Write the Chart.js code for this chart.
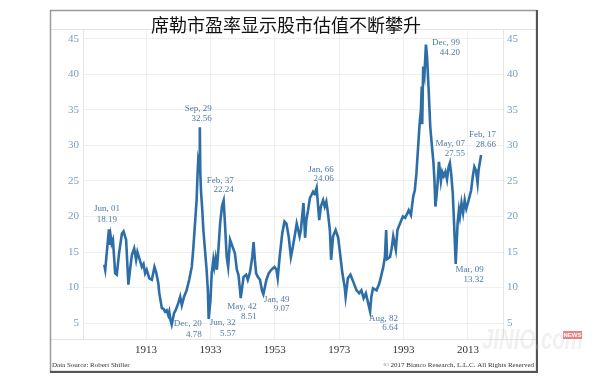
<!DOCTYPE html>
<html><head><meta charset="utf-8">
<script src="https://cdn.jsdelivr.net/npm/chart.js@4.4.1/dist/chart.umd.min.js"></script>
<style>html,body{margin:0;padding:0;background:#fff;}#wrap{width:600px;height:380px;position:relative;}</style>
</head><body><div id="wrap"><canvas id="c" width="600" height="380"></canvas></div>
<script>
const titleText = '席勒市盈率显示股市估值不断攀升';
const years = [1900.0,1900.3,1901.45,1901.7,1902.0,1902.3,1902.7,1903.4,1903.9,1904.6,1905.5,1906.0,1906.8,1907.5,1908.1,1908.6,1909.3,1909.9,1910.3,1910.9,1911.7,1912.2,1912.7,1913.2,1914.0,1914.8,1915.6,1916.1,1916.8,1917.1,1917.9,1918.4,1918.9,1919.4,1919.9,1920.2,1920.6,1920.96,1921.7,1922.2,1923.0,1923.6,1924.1,1924.8,1925.6,1926.4,1927.2,1927.7,1928.2,1928.7,1929.0,1929.2,1929.45,1929.7,1929.85,1930.1,1930.4,1930.8,1931.3,1931.8,1932.2,1932.45,1933.0,1933.4,1933.9,1934.2,1934.6,1935.0,1935.5,1936.0,1936.6,1937.1,1937.5,1938.05,1938.5,1939.1,1939.9,1940.6,1941.2,1941.7,1942.2,1942.4,1943.3,1944.1,1944.6,1945.3,1946.0,1946.4,1946.8,1947.2,1947.7,1948.4,1949.0,1949.45,1950.4,1951.1,1951.9,1952.9,1953.5,1953.9,1954.5,1955.3,1956.0,1956.6,1957.3,1958.0,1958.6,1959.3,1959.8,1960.7,1961.1,1961.9,1962.4,1962.8,1963.3,1963.9,1964.9,1965.4,1966.0,1966.3,1966.8,1967.3,1968.0,1968.5,1969.0,1969.5,1970.1,1970.5,1971.1,1971.9,1972.7,1973.4,1974.0,1974.7,1975.0,1975.7,1976.5,1977.3,1978.4,1979.2,1979.9,1980.6,1981.3,1982.0,1982.6,1983.0,1983.5,1984.6,1985.5,1986.7,1987.2,1987.6,1987.9,1988.8,1989.3,1989.8,1990.6,1991.1,1991.9,1992.8,1993.5,1994.6,1995.3,1996.0,1996.5,1997.0,1997.6,1998.0,1998.4,1998.65,1998.8,1999.1,1999.5,1999.95,2000.3,2000.8,2001.3,2001.8,2002.3,2002.6,2002.9,2003.2,2003.5,2004.0,2004.6,2005.0,2005.5,2006.0,2006.5,2007.0,2007.4,2007.8,2008.3,2008.7,2009.2,2009.8,2010.2,2010.5,2011.0,2011.5,2012.0,2012.5,2013.0,2013.5,2014.0,2014.5,2015.0,2015.5,2016.0,2016.3,2017.1];
const cape = [13.2,12.5,18.19,16.0,17.2,16.2,16.7,12.0,11.8,14.8,17.6,17.9,16.7,10.4,12.8,14.6,15.5,13.9,15.0,14.1,12.9,13.3,12.0,12.5,11.3,11.1,12.9,12.2,10.6,9.2,7.1,7.0,6.6,6.8,6.1,6.6,5.4,4.78,6.4,6.8,7.8,8.7,7.5,8.7,9.6,11.1,12.9,15.7,19.0,22.3,26.0,27.9,27.3,32.56,26.1,23.3,21.4,18.1,15.3,12.5,9.6,5.57,8.2,12.0,13.9,12.9,14.1,12.5,15.5,19.0,21.5,22.24,19.1,14.3,12.9,16.7,15.7,14.8,12.5,11.8,9.6,8.51,11.5,11.8,11.1,12.2,14.3,16.4,13.9,12.0,11.5,11.1,9.6,9.07,11.1,12.0,12.5,12.9,12.5,11.3,14.3,17.6,19.3,19.0,17.2,14.3,15.7,17.6,19.0,17.2,18.1,21.9,17.0,19.5,20.8,22.6,23.5,23.2,24.06,22.3,19.5,21.4,22.3,21.4,22.1,20.5,18.1,13.9,17.2,18.1,17.0,14.3,12.0,10.1,8.7,11.3,11.8,10.9,9.6,9.2,9.6,8.5,9.2,7.8,6.64,8.7,9.9,9.6,10.6,12.9,14.3,18.1,14.0,14.3,15.5,17.2,15.3,18.1,19.0,20.0,19.8,20.9,20.2,22.8,23.7,26.1,30.3,33.1,35.0,38.3,33.0,41.1,40.0,44.2,42.5,37.8,32.6,30.0,27.5,25.1,21.4,22.7,24.2,27.7,25.0,26.3,25.7,26.3,25.2,27.0,27.55,26.0,23.2,19.0,13.32,19.1,20.9,20.0,21.9,20.5,22.3,21.1,21.9,22.8,23.7,25.6,27.0,26.5,24.7,26.5,28.66];
const xTickYears = [1913,1933,1953,1973,1993,2013];
const yTickValues = [5,10,15,20,25,30,35,40,45];
const annDates = ['Jun, 01','Sep, 29','Feb, 37','Dec, 20','Jun, 32','May, 42','Jan, 49','Jan, 66','Aug, 82','Dec, 99','May, 07','Mar, 09','Feb, 17'];
const annValues = ['18.19','32.56','22.24','4.78','5.57','8.51','9.07','24.06','6.64','44.20','27.55','13.32','28.66'];
const annYears = [1901.45,1929.7,1937.1,1920.96,1932.45,1942.4,1949.45,1966.0,1982.6,1999.95,2007.4,2009.2,2017.1];
const annLevels = [18.19,32.56,22.24,4.78,5.57,8.51,9.07,24.06,6.64,44.20,27.55,13.32,28.66];
const sourceNote = 'Data Source: Robert Shiller';
const copyrightNote = '© 2017 Bianco Research, L.L.C. All Rights Reserved';
const watermark = 'JINIO.com';

// label layout: [align, dx, dy line1, dy line2]
const annLayout = [
  ['center',-2,-21,-10],['right',12,-19,-9],['right',10,-20,-11],['right',30,-1,10],
  ['right',27,4,15],['right',16,9,19],['right',26,6,15],['right',17,-18,-9],
  ['right',28,7,16],['right',34,-2,8],['right',15,-19,-9],['right',28,6,16],['right',15,-20,-10]
];

const serif = '"Liberation Serif","DejaVu Serif",serif';

const decor = {
  id:'decor',
  afterDraw(chart){
    const ctx = chart.ctx;
    const xs = chart.scales.x, ys = chart.scales.y;
    ctx.save();
    ctx.strokeStyle = '#e4e4e4'; ctx.lineWidth = 1;
    ctx.beginPath(); ctx.moveTo(50,29.5); ctx.lineTo(536,29.5); ctx.stroke();
    ctx.beginPath(); ctx.moveTo(50,339.5); ctx.lineTo(536,339.5); ctx.stroke();
    ctx.strokeStyle = '#9a9a9a'; ctx.lineWidth = 1.5;
    ctx.strokeRect(50.5,10.5,486,361);
    ctx.strokeStyle = '#555'; ctx.lineWidth = 2;
    ctx.beginPath(); ctx.moveTo(537,10); ctx.lineTo(537,372); ctx.lineTo(50,372); ctx.stroke();
    ctx.fillStyle = '#111';
    ctx.font = '18px "Noto Sans CJK SC"';
    ctx.textAlign = 'center'; ctx.textBaseline = 'middle';
    ctx.fillText(titleText, 286, 25);
    ctx.fillStyle = '#4f7aa3';
    ctx.font = '9px ' + serif;
    for (let i=0;i<annDates.length;i++){
      const px = xs.getPixelForValue(annYears[i]);
      const py = ys.getPixelForValue(annLevels[i]);
      const L = annLayout[i];
      ctx.textAlign = L[0];
      ctx.fillText(annDates[i], px+L[1], py+L[2]);
      ctx.fillText(annValues[i], px+L[1], py+L[3]);
    }
    ctx.fillStyle = '#333';
    ctx.font = '7px ' + serif;
    ctx.textAlign = 'left';
    ctx.fillText(sourceNote, 52, 365);
    ctx.textAlign = 'right';
    ctx.fillText(copyrightNote, 534, 365);
    // faint watermark
    ctx.font = 'italic bold 30px "Liberation Sans",sans-serif';
    ctx.textAlign = 'left';
    const w = ctx.measureText(watermark).width;
    ctx.save();
    ctx.translate(482, 341);
    ctx.scale(101 / w, 1);
    ctx.fillStyle = 'rgba(190,190,190,0.22)';
    ctx.fillText(watermark, 0, 0);
    ctx.restore();
    ctx.fillStyle = 'rgba(225,80,80,0.7)';
    ctx.fillRect(563,331,19,8);
    ctx.fillStyle = '#fff';
    ctx.font = 'bold 6px "Liberation Sans",sans-serif';
    ctx.textAlign = 'center';
    ctx.fillText('NEWS', 572.5, 335.5);
    ctx.restore();
  }
};

const yAxisCommon = {
  type:'linear', min:2.75, max:46.4,
  afterBuildTicks(s){ s.ticks = yTickValues.map(v=>({value:v})); },
  ticks:{ font:{family:serif, size:11}, color:'#7b9dbf', padding:4 },
};

new Chart(document.getElementById('c'), {
  type:'line',
  data:{ datasets:[{
    data: years.map((y,i)=>({x:y, y:cape[i]})),
    borderColor:'#2d6ea6', borderWidth:2.6, pointRadius:0, tension:0, fill:false
  }]},
  options:{
    responsive:false, animation:false, devicePixelRatio:1,
    layout:{ padding:{left:50, right:64, top:29, bottom:21} },
    plugins:{ legend:{display:false}, tooltip:{enabled:false}, title:{display:false} },
    scales:{
      x:{ type:'linear', min:1893.4, max:2023.9,
        afterBuildTicks(s){ s.ticks = xTickYears.map(v=>({value:v})); },
        afterFit(s){ s.height = 20; },
        ticks:{ font:{family:serif, size:11}, color:'#333', padding:5, maxRotation:0, autoSkip:false, callback:v=>String(v) },
        grid:{ color:'#efefef', drawTicks:false },
        border:{ display:false }
      },
      y: Object.assign({}, yAxisCommon, { position:'left',
        afterFit(s){ s.width = 33; },
        grid:{ color:'#efefef', drawTicks:false },
        border:{ display:true, color:'#e6e6e6' } }),
      y2: Object.assign({}, yAxisCommon, { position:'right',
        afterFit(s){ s.width = 33; },
        grid:{ display:false, drawTicks:false },
        border:{ display:true, color:'#e6e6e6' } })
    }
  },
  plugins:[decor]
});
</script>
</body></html>
